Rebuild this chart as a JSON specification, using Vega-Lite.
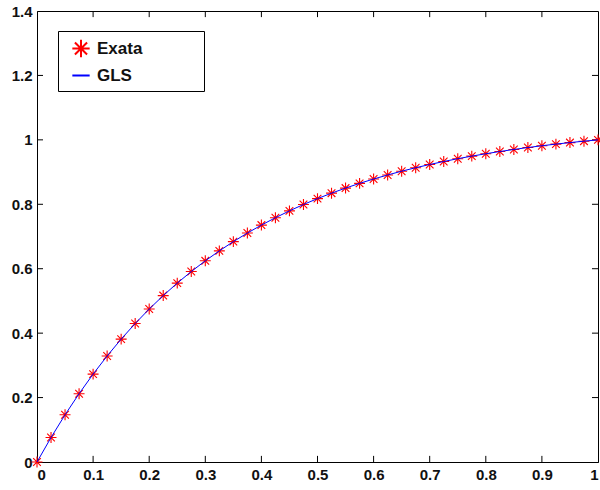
{
  "$schema": "https://vega.github.io/schema/vega-lite/v6.json",
  "width": 561,
  "height": 451,
  "autosize": "none",
  "padding": {"left": 37, "top": 11, "right": 2, "bottom": 28},
  "background": "white",
  "config": {
    "view": {"stroke": "black", "strokeWidth": 1},
    "axis": {
      "domainColor": "black",
      "domainWidth": 1,
      "ticks": false,
      "grid": false,
      "labelFont": "Liberation Sans",
      "labelFontSize": 15,
      "labelFontWeight": "bold",
      "labelColor": "#111111",
      "labelPadding": 5,
      "title": null
    },
    "legend": {
      "labelFont": "Liberation Sans",
      "labelFontSize": 17,
      "labelFontWeight": "bold",
      "labelColor": "#111111"
    }
  },
  "datasets": {
    "curve": [
      {"x": 0, "y": 0},
      {"x": 0.025, "y": 0.0760},
      {"x": 0.05, "y": 0.1466},
      {"x": 0.075, "y": 0.2120},
      {"x": 0.1, "y": 0.2728},
      {"x": 0.125, "y": 0.3291},
      {"x": 0.15, "y": 0.3814},
      {"x": 0.175, "y": 0.4299},
      {"x": 0.2, "y": 0.4748},
      {"x": 0.225, "y": 0.5166},
      {"x": 0.25, "y": 0.5553},
      {"x": 0.275, "y": 0.5912},
      {"x": 0.3, "y": 0.6245},
      {"x": 0.325, "y": 0.6554},
      {"x": 0.35, "y": 0.6841},
      {"x": 0.375, "y": 0.7107},
      {"x": 0.4, "y": 0.7354},
      {"x": 0.425, "y": 0.7583},
      {"x": 0.45, "y": 0.7796},
      {"x": 0.475, "y": 0.7993},
      {"x": 0.5, "y": 0.8176},
      {"x": 0.525, "y": 0.8345},
      {"x": 0.55, "y": 0.8503},
      {"x": 0.575, "y": 0.8649},
      {"x": 0.6, "y": 0.8784},
      {"x": 0.625, "y": 0.8910},
      {"x": 0.65, "y": 0.9027},
      {"x": 0.675, "y": 0.9135},
      {"x": 0.7, "y": 0.9235},
      {"x": 0.725, "y": 0.9328},
      {"x": 0.75, "y": 0.9415},
      {"x": 0.775, "y": 0.9495},
      {"x": 0.8, "y": 0.9569},
      {"x": 0.825, "y": 0.9638},
      {"x": 0.85, "y": 0.9702},
      {"x": 0.875, "y": 0.9762},
      {"x": 0.9, "y": 0.9817},
      {"x": 0.925, "y": 0.9868},
      {"x": 0.95, "y": 0.9915},
      {"x": 0.975, "y": 0.9959},
      {"x": 1, "y": 1.0}
    ],
    "xticks": [
      {"v": 0.1}, {"v": 0.2}, {"v": 0.3}, {"v": 0.4}, {"v": 0.5},
      {"v": 0.6}, {"v": 0.7}, {"v": 0.8}, {"v": 0.9}
    ],
    "yticks": [
      {"v": 0.2}, {"v": 0.4}, {"v": 0.6}, {"v": 0.8}, {"v": 1.0}, {"v": 1.2}
    ]
  },
  "layer": [
    {
      "data": {"name": "xticks"},
      "mark": {"type": "rule", "color": "black", "strokeWidth": 1},
      "encoding": {
        "x": {"field": "v", "type": "quantitative"},
        "y": {"datum": 0, "type": "quantitative"},
        "y2": {"datum": 0.019}
      }
    },
    {
      "data": {"name": "xticks"},
      "mark": {"type": "rule", "color": "black", "strokeWidth": 1},
      "encoding": {
        "x": {"field": "v", "type": "quantitative"},
        "y": {"datum": 1.381, "type": "quantitative"},
        "y2": {"datum": 1.4}
      }
    },
    {
      "data": {"name": "yticks"},
      "mark": {"type": "rule", "color": "black", "strokeWidth": 1},
      "encoding": {
        "y": {"field": "v", "type": "quantitative"},
        "x": {"datum": 0, "type": "quantitative"},
        "x2": {"datum": 0.0107}
      }
    },
    {
      "data": {"name": "yticks"},
      "mark": {"type": "rule", "color": "black", "strokeWidth": 1},
      "encoding": {
        "y": {"field": "v", "type": "quantitative"},
        "x": {"datum": 0.9893, "type": "quantitative"},
        "x2": {"datum": 1}
      }
    },
    {
      "data": {"name": "curve"},
      "mark": {"type": "point", "filled": false, "strokeWidth": 1.1, "size": 120, "opacity": 1},
      "encoding": {
        "x": {"field": "x", "type": "quantitative",
          "scale": {"domain": [0, 1], "nice": false, "zero": false},
          "axis": {"orient": "bottom", "values": [0, 0.1, 0.2, 0.3, 0.4, 0.5, 0.6, 0.7, 0.8, 0.9, 1], "format": ".1~f"}},
        "y": {"field": "y", "type": "quantitative",
          "scale": {"domain": [0, 1.4], "nice": false, "zero": false},
          "axis": {"orient": "left", "values": [0, 0.2, 0.4, 0.6, 0.8, 1, 1.2, 1.4], "format": ".1~f"}},
        "shape": {
          "datum": "Exata",
          "scale": {"domain": ["Exata", "GLS"], "range": ["M-1,0L1,0M0,-1L0,1M-0.7,-0.7L0.7,0.7M-0.7,0.7L0.7,-0.7", "stroke"]},
          "legend": null
        },
        "color": {
          "datum": "Exata",
          "scale": {"domain": ["Exata", "GLS"], "range": ["#ff0000", "#0000ff"]},
          "legend": {
            "orient": "none",
            "legendX": 21,
            "legendY": 20,
            "title": "MMMM",
            "titleOrient": "right",
            "titleOpacity": 0,
            "titleFontSize": 14,
            "titlePadding": 7,
            "strokeColor": "black",
            "fillColor": "white",
            "padding": 7.5,
            "symbolOffset": 5.5,
            "symbolSize": 300,
            "symbolStrokeWidth": 2,
            "symbolOpacity": 1,
            "rowPadding": 4,
            "labelOffset": 6
          }
        }
      }
    },
    {
      "data": {"name": "curve"},
      "mark": {"type": "line", "strokeWidth": 1},
      "encoding": {
        "x": {"field": "x", "type": "quantitative"},
        "y": {"field": "y", "type": "quantitative"},
        "color": {"datum": "GLS"}
      }
    }
  ]
}
